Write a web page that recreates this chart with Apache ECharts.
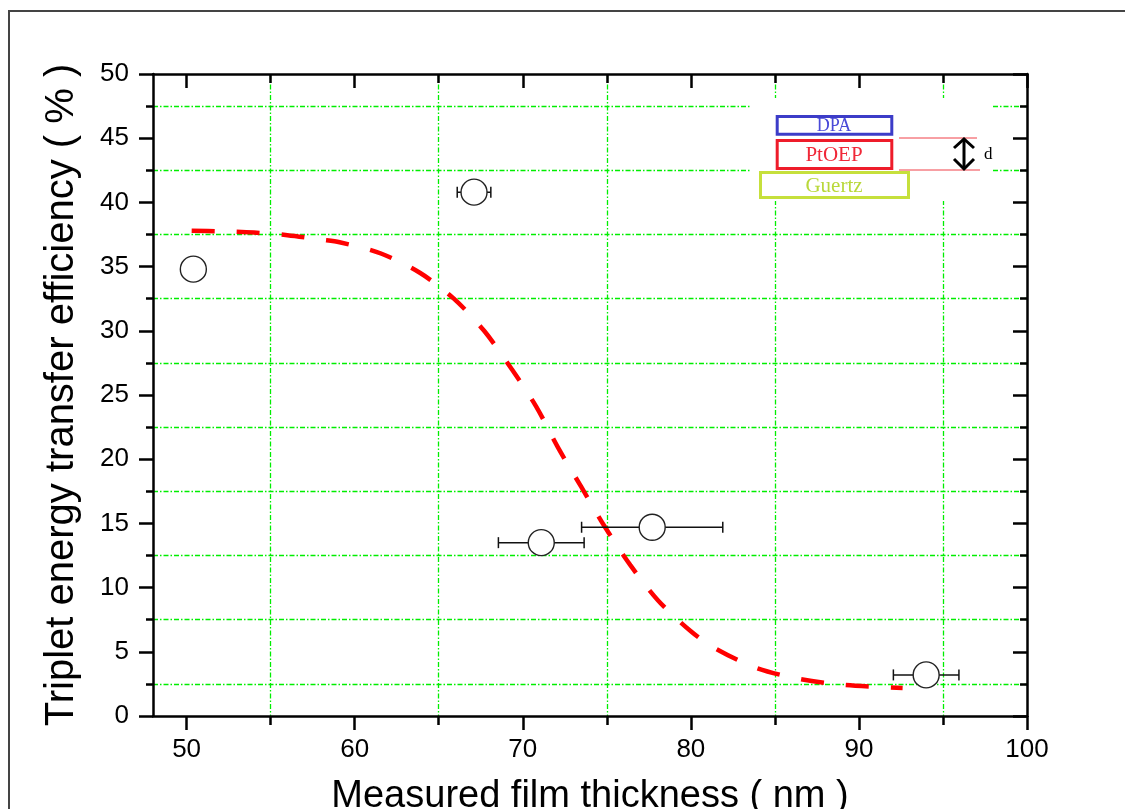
<!DOCTYPE html>
<html><head><meta charset="utf-8">
<script src="https://cdn.jsdelivr.net/npm/echarts@6/dist/echarts.min.js"></script>
<style>html,body{margin:0;padding:0;background:#fff}#c{width:1125px;height:809px}</style>
</head><body><div id="c"></div>
<script>
// ---- data ----
const xMajorTicks = [50, 60, 70, 80, 90, 100];
const xMinorTicks = [55, 65, 75, 85, 95];
const thickness = [50.4, 67.1, 71.1, 77.7, 94.0];
const efficiency = [34.8, 40.8, 13.5, 14.7, 3.2];
const thicknessErr = [0, 1.0, 2.55, 4.2, 1.95];
const fitX = [50.3, 52, 54, 56, 58, 59.1, 61.6, 63.9, 65.9, 67.7, 69.35, 70.8, 72.1, 73.5, 74.9, 76.4, 78.05, 80.0, 81.4, 83.9, 86.5, 89.2, 92.6];
const fitY = [37.8, 37.75, 37.65, 37.45, 37.1, 36.9, 36.0, 34.5, 32.5, 30.0, 27.0, 24.1, 20.9, 17.8, 14.7, 11.75, 9.0, 6.6, 5.3, 3.74, 2.88, 2.41, 2.18];
const insetLabels = ['DPA', 'PtOEP', 'Guertz', 'd'];

// ---- styles ----
const FONT = '"Liberation Sans", Arial, sans-serif';
const SERIF = '"Liberation Serif", "Times New Roman", serif';
const GREEN = '#00ee00';
const gridDash = [5, 2, 1.5, 2];
const axisLine = { show: true, onZero: false, lineStyle: { color: '#000', width: 2.5 } };
const tickStyle = { color: '#000', width: 2.5 };

const chart = echarts.init(document.getElementById('c'), null, { renderer: 'canvas' });

const errData = thickness.map((x, i) => [x, efficiency[i], x - thicknessErr[i], x + thicknessErr[i], thicknessErr[i]]);

const option = {
  backgroundColor: '#fff',
  animation: false,
  grid: { left: 153, right: 98, top: 74, bottom: 93, containLabel: false, outerBoundsMode: 'none' },
  xAxis: [
    {
      type: 'value', position: 'bottom', min: 48, max: 100,
      axisLine: axisLine,
      axisTick: { show: true, inside: false, length: 14, customValues: xMajorTicks, lineStyle: tickStyle },
      axisLabel: { customValues: xMajorTicks, fontSize: 26, color: '#000', fontFamily: FONT, margin: 21 },
      splitLine: { show: false },
      name: 'Measured film thickness ( nm )', nameLocation: 'middle', nameGap: 62,
      nameTextStyle: { fontSize: 38, fontFamily: FONT, color: '#000' }
    },
    {
      type: 'value', position: 'bottom', min: 48, max: 100,
      axisLine: { show: false, onZero: false },
      axisTick: { show: true, inside: false, length: 9, customValues: xMinorTicks, lineStyle: tickStyle },
      axisLabel: { show: false },
      splitLine: { show: true, lineStyle: { color: GREEN, width: 1.3, type: gridDash } }
    },
    {
      type: 'value', position: 'top', min: 48, max: 100,
      axisLine: axisLine,
      axisTick: { show: true, inside: true, length: 14, customValues: xMajorTicks, lineStyle: tickStyle },
      axisLabel: { show: false },
      splitLine: { show: false }
    },
    {
      type: 'value', position: 'top', min: 48, max: 100,
      axisLine: { show: false, onZero: false },
      axisTick: { show: true, inside: true, length: 9, customValues: xMinorTicks, lineStyle: tickStyle },
      axisLabel: { show: false },
      splitLine: { show: false }
    }
  ],
  yAxis: [
    {
      type: 'value', position: 'left', min: 0, max: 50, interval: 5,
      axisLine: axisLine,
      axisTick: { show: true, inside: false, length: 14, lineStyle: tickStyle },
      minorTick: { show: true, splitNumber: 2, length: 7, lineStyle: tickStyle },
      minorSplitLine: { show: true, lineStyle: { color: GREEN, width: 1.3, type: gridDash } },
      splitLine: { show: false },
      axisLabel: { fontSize: 26, color: '#000', fontFamily: FONT, margin: 24 },
      name: 'Triplet energy transfer efficiency ( % )', nameLocation: 'middle', nameGap: 71,
      nameTextStyle: { fontSize: 40, fontFamily: FONT, color: '#000' }
    },
    {
      type: 'value', position: 'right', min: 0, max: 50, interval: 5,
      axisLine: axisLine,
      axisTick: { show: true, inside: true, length: 14, lineStyle: tickStyle },
      minorTick: { show: true, splitNumber: 2, length: 7, lineStyle: tickStyle },
      splitLine: { show: false },
      axisLabel: { show: false }
    }
  ],
  series: [
    {
      type: 'line', xAxisIndex: 0, yAxisIndex: 0, z: 3,
      data: fitX.map((x, i) => [x, fitY[i]]),
      smooth: 0.3, symbol: 'none',
      lineStyle: { color: '#ff0000', width: 4.5, type: [23, 22], cap: 'butt' }
    },
    {
      type: 'custom', xAxisIndex: 0, yAxisIndex: 0, z: 4,
      data: errData,
      renderItem: function (params, api) {
        if (!(api.value(4) > 0)) return null;
        const y = api.value(1);
        const p1 = api.coord([api.value(2), y]);
        const p2 = api.coord([api.value(3), y]);
        const h = 5.5;
        const st = { stroke: '#111', lineWidth: 1.5 };
        return {
          type: 'group', children: [
            { type: 'line', shape: { x1: p1[0], y1: p1[1], x2: p2[0], y2: p2[1] }, style: st },
            { type: 'line', shape: { x1: p1[0], y1: p1[1] - h, x2: p1[0], y2: p1[1] + h }, style: st },
            { type: 'line', shape: { x1: p2[0], y1: p2[1] - h, x2: p2[0], y2: p2[1] + h }, style: st }
          ]
        };
      }
    },
    {
      type: 'scatter', xAxisIndex: 0, yAxisIndex: 0, z: 5,
      data: thickness.map((x, i) => [x, efficiency[i]]),
      symbol: 'circle', symbolSize: 26,
      itemStyle: { color: '#fff', borderColor: '#222', borderWidth: 1.4, opacity: 1 }
    }
  ],
  graphic: [
    { type: 'rect', z: 100, shape: { x: 9, y: 11, width: 1300, height: 900 }, style: { fill: 'transparent', stroke: '#444', lineWidth: 2 } },
    { type: 'rect', z: 100, shape: { x: 750, y: 98, width: 243, height: 103 }, style: { fill: '#fff' } },
    { type: 'rect', z: 101, shape: { x: 777.2, y: 116.5, width: 114.6, height: 17.7 }, style: { fill: '#fff', stroke: '#3c3cc8', lineWidth: 3 } },
    { type: 'text', z: 102, x: 834, y: 126, style: { text: insetLabels[0], fill: '#4a4ad8', font: '18px ' + SERIF, align: 'center', verticalAlign: 'middle' } },
    { type: 'rect', z: 101, shape: { x: 777.2, y: 140.5, width: 114.6, height: 28 }, style: { fill: '#fff', stroke: '#ee1c2a', lineWidth: 3 } },
    { type: 'text', z: 102, x: 834, y: 155, style: { text: insetLabels[1], fill: '#f02838', font: '21px ' + SERIF, align: 'center', verticalAlign: 'middle' } },
    { type: 'rect', z: 101, shape: { x: 760.5, y: 172.5, width: 148, height: 25 }, style: { fill: '#fff', stroke: '#c6e03c', lineWidth: 3 } },
    { type: 'text', z: 102, x: 834, y: 186, style: { text: insetLabels[2], fill: '#b9d83a', font: '21px ' + SERIF, align: 'center', verticalAlign: 'middle' } },
    { type: 'line', z: 101, shape: { x1: 899, y1: 138, x2: 977, y2: 138 }, style: { stroke: '#f04048', lineWidth: 1 } },
    { type: 'line', z: 101, shape: { x1: 899, y1: 170, x2: 980, y2: 170 }, style: { stroke: '#f04048', lineWidth: 1 } },
    { type: 'line', z: 102, shape: { x1: 964, y1: 139, x2: 964, y2: 169 }, style: { stroke: '#000', lineWidth: 3 } },
    { type: 'polyline', z: 102, shape: { points: [[954, 148], [964, 139], [974, 148]] }, style: { stroke: '#000', lineWidth: 3, fill: null } },
    { type: 'polyline', z: 102, shape: { points: [[954, 159], [964, 169], [974, 159]] }, style: { stroke: '#000', lineWidth: 3, fill: null } },
    { type: 'text', z: 102, x: 984, y: 155, style: { text: insetLabels[3], fill: '#000', font: '17px ' + SERIF, align: 'left', verticalAlign: 'middle' } }
  ]
};
chart.setOption(option);
</script>
</body></html>
